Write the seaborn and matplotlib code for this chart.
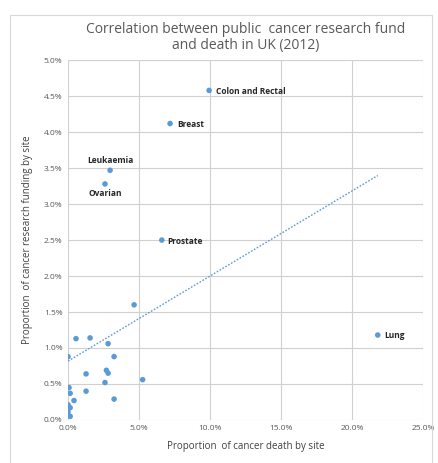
import numpy as np
import pandas as pd
import seaborn as sns
import matplotlib.pyplot as plt
from matplotlib.patches import Rectangle
from matplotlib.ticker import PercentFormatter

# Data (percent of deaths, percent of funding)
sites = ["Colon and Rectal", "Breast", "Leukaemia", "Ovarian", "Prostate", "Lung"]
site_death = [9.93, 7.18, 2.96, 2.60, 6.60, 21.8]
site_fund = [4.58, 4.12, 3.47, 3.28, 2.50, 1.18]

other_death = [4.65, 0.0, 0.56, 1.55, 2.82, 3.24, 1.27, 2.7, 2.82, 2.6, 5.25,
               0.07, 1.27, 0.15, 0.42, 0.0, 0.15, 0.0, 0.15, 3.24]
other_fund = [1.60, 0.88, 1.13, 1.14, 1.06, 0.88, 0.64, 0.69, 0.65, 0.52, 0.56,
              0.45, 0.40, 0.37, 0.27, 0.21, 0.17, 0.11, 0.05, 0.29]

df = pd.DataFrame({
    "death": site_death + other_death,
    "fund": site_fund + other_fund,
})

sns.set_style("whitegrid")
plt.rcParams['font.family'] = ['Open Sans', 'DejaVu Sans']

fig = plt.figure(figsize=(4.39, 4.63), dpi=100)
ax = fig.add_axes([0.155, 0.093, 0.809, 0.777])

# outer chart frame
fig.patches.append(Rectangle((0.023, -0.01), 0.961, 0.978, transform=fig.transFigure,
                             fill=False, edgecolor="#d9d9d9", lw=0.8))

sns.scatterplot(data=df, x="death", y="fund", color="#5b9bd5", s=16,
                edgecolor="none", ax=ax)

# linear trendline
slope, inter = np.polyfit(df["death"], df["fund"], 1)
xs = np.array([0, max(df["death"])])
ax.plot(xs, slope * xs + inter, ls=(0, (1.2, 1.2)), color="#5b9bd5", lw=1)

# point labels
offsets = {"Colon and Rectal": (5, -1, "left", "center"),
           "Breast": (5, -1, "left", "center"),
           "Leukaemia": (0, 4, "center", "bottom"),
           "Ovarian": (0, -4, "center", "top"),
           "Prostate": (4, -1, "left", "center"),
           "Lung": (5, 0, "left", "center")}
for name, x, y in zip(sites, site_death, site_fund):
    dx, dy, ha, va = offsets[name]
    ax.annotate(name, (x, y), xytext=(dx, dy), textcoords="offset points",
                ha=ha, va=va, fontsize=6, fontweight="bold", color="#262626")

ax.set_xlim(0, 25)
ax.set_ylim(0, 5)
ax.set_xticks(np.arange(0, 26, 5))
ax.set_yticks(np.arange(0, 5.01, 0.5))
ax.xaxis.set_major_formatter(PercentFormatter(decimals=1))
ax.yaxis.set_major_formatter(PercentFormatter(decimals=1))
ax.tick_params(labelsize=6, colors="#595959", length=0, pad=4)
ax.grid(color="#d0d0d0", lw=0.8)
for s in ax.spines.values():
    s.set_visible(False)

ax.set_xlabel("Proportion  of cancer death by site", fontsize=7, color="#404040", labelpad=6)
ax.set_ylabel("Proportion  of cancer research funding by site", fontsize=7, color="#404040",
              labelpad=8)
ax.set_title("Correlation between public  cancer research fund\nand death in UK (2012)",
             fontsize=10, color="#595959", pad=8, linespacing=1.1)

fig.savefig("out.png", dpi=100)
